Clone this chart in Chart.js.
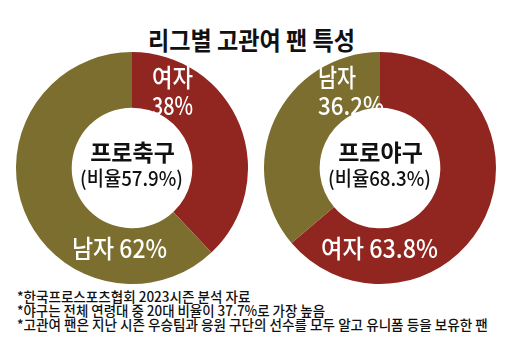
<!DOCTYPE html>
<html>
<head>
<meta charset="utf-8">
<script src="https://cdn.jsdelivr.net/npm/chart.js@4"></script>
<style>
html, body { margin: 0; padding: 0; background: #fff; }
body { width: 516px; height: 352px; position: relative; overflow: hidden; font-family: "Noto Sans CJK KR", sans-serif; color: #111; }
.chart { position: absolute; top: 52px; width: 232px; height: 232px; }
.fit { position: absolute; white-space: nowrap; line-height: 1; transform-origin: 0 50%; }
#title { font-size: 25px; font-weight: bold; }
.note { font-size: 14px; font-weight: 500; }
</style>
</head>
<body>
<div id="title" class="fit" data-w="207" style="left:148px; top:27px;">리그별 고관여 팬 특성</div>
<canvas id="soccer" class="chart" width="232" height="232" style="left:16px;"></canvas>
<canvas id="baseball" class="chart" width="232" height="232" style="left:264px;"></canvas>
<div class="fit note" data-w="233" style="left:17px; top:289px;">*한국프로스포츠협회 2023시즌 분석 자료</div>
<div class="fit note" data-w="308" style="left:17px; top:303px;">*야구는 전체 연령대 중 20대 비율이 37.7%로 가장 높음</div>
<div class="fit note" data-w="471" style="left:17px; top:317px;">*고관여 팬은 지난 시즌 우승팀과 응원 구단의 선수를 모두 알고 유니폼 등을 보유한 팬</div>

<script>
// Data
const leagues = ['프로축구', '프로야구'];
const leagueShare = [57.9, 68.3];          // 비율 (%)
const genders = ['여자', '남자'];
const soccerValues = [38, 62];             // 여자, 남자
const baseballValues = [63.8, 36.2];       // 여자, 남자

const colors = {
    red: '#912620',
    olive: '#7c6e2e'
};

// squeeze html text to the width of the original condensed font
document.querySelectorAll('.fit').forEach(el => {
    const target = parseFloat(el.getAttribute('data-w'));
    el.style.transform = 'scaleX(' + (target / el.offsetWidth) + ')';
});

// text inside the doughnut
const donutText = {
    id: 'donutText',
    afterDraw(chart, args, opts) {
        const ctx = chart.ctx;
        const arc = chart.getDatasetMeta(0).data[0];
        const cx = arc.x, cy = arc.y;
        ctx.save();
        ctx.textBaseline = 'middle';
        opts.items.forEach(item => {
            ctx.font = item.font;
            ctx.fillStyle = item.color;
            ctx.textAlign = item.align;
            ctx.fillText(item.text, cx + item.dx, cy + item.dy, item.w);
        });
        ctx.restore();
    }
};

function makeChart(id, idx, values, items) {
    new Chart(document.getElementById(id), {
        type: 'doughnut',
        data: {
            labels: genders,
            datasets: [{
                data: values,
                backgroundColor: [colors.red, colors.olive],
                borderWidth: 0
            }]
        },
        options: {
            responsive: false,
            animation: false,
            cutout: '52%',
            layout: { padding: 0 },
            plugins: {
                legend: { display: false },
                tooltip: { enabled: false },
                donutText: {
                    items: items.concat([
                        { text: leagues[idx], dx: 0.5, dy: -16, w: 85, align: 'center', font: 'bold 23px "Noto Sans CJK KR"', color: '#111' },
                        { text: '(비율' + leagueShare[idx] + '%)', dx: -0.5, dy: 10.5, w: 103, align: 'center', font: '500 20px "Noto Sans CJK KR"', color: '#111' }
                    ])
                }
            }
        },
        plugins: [donutText]
    });
}

const labelFont = '500 25px "Noto Sans CJK KR"';

makeChart('soccer', 0, soccerValues, [
    { text: genders[0], dx: 20, dy: -90.5, w: 41, align: 'left', font: labelFont, color: '#fff' },
    { text: soccerValues[0] + '%', dx: 20, dy: -63, w: 41, align: 'left', font: labelFont, color: '#fff' },
    { text: genders[1] + ' ' + soccerValues[1] + '%', dx: -60, dy: 80.5, w: 95, align: 'left', font: labelFont, color: '#fff' }
]);

makeChart('baseball', 1, baseballValues, [
    { text: genders[1], dx: -62, dy: -90.5, w: 38, align: 'left', font: labelFont, color: '#fff' },
    { text: baseballValues[1] + '%', dx: -62, dy: -63, w: 66, align: 'left', font: labelFont, color: '#fff' },
    { text: genders[0] + ' ' + baseballValues[0] + '%', dx: -59, dy: 80.5, w: 117, align: 'left', font: labelFont, color: '#fff' }
]);
</script>
</body>
</html>
